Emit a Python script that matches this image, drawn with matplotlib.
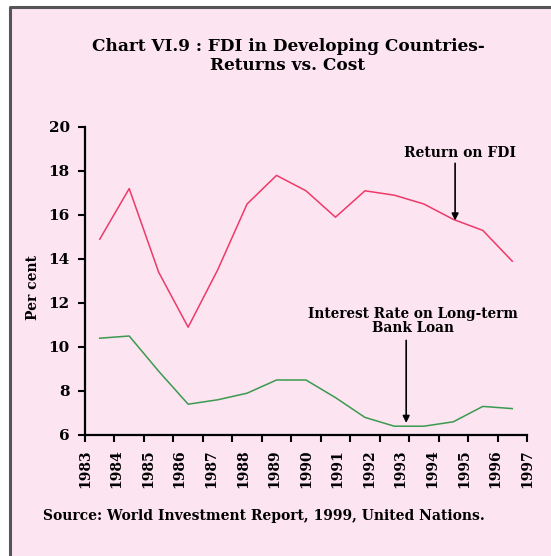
import numpy as np
import matplotlib
matplotlib.use('Agg')
import matplotlib.pyplot as plt
from matplotlib.patches import Rectangle
from matplotlib.lines import Line2D

# DATA ------------------------------------------------------------------------
years = ['1983', '1984', '1985', '1986', '1987', '1988', '1989', '1990',
         '1991', '1992', '1993', '1994', '1995', '1996', '1997']
return_fdi = [14.9, 17.2, 13.4, 10.9, 13.5, 16.5, 17.8, 17.1, 15.9, 17.1,
              16.9, 16.5, 15.8, 15.3, 13.9]
interest_rate = [10.4, 10.5, 8.9, 7.4, 7.6, 7.9, 8.5, 8.5, 7.7, 6.8,
                 6.4, 6.4, 6.6, 7.3, 7.2]
yticks = [6, 8, 10, 12, 14, 16, 18, 20]
# END DATA --------------------------------------------------------------------

W, H = 551, 556
bg = '#fce4f0'
red = '#ee3a6a'
green = '#3a9a50'
font = 'DejaVu Serif'

fig = plt.figure(figsize=(W / 100, H / 100), dpi=100, facecolor='white')
# pink panel, grey frame only on left/top
fig.patches.append(Rectangle((10 / W, 0), 1, 1 - 7 / H,
                             transform=fig.transFigure, facecolor=bg,
                             edgecolor='none', zorder=-5))
fig.lines.append(Line2D([10 / W, 10 / W, 1], [0, 1 - 7 / H, 1 - 7 / H],
                        transform=fig.transFigure, color='#555555', lw=2.2))

ax = fig.add_axes([85 / W, 1 - 435 / H, (527 - 85) / W, (435 - 127) / H])
ax.set_facecolor('none')
ax.set_zorder(2)

x = np.arange(len(years))
ax.plot(x, return_fdi, color=red, lw=1.1)
ax.plot(x, interest_rate, color=green, lw=1.1)

ax.set_xlim(-0.5, len(years) - 0.5)
ax.set_ylim(6, 20)

for s in ['top', 'right']:
    ax.spines[s].set_visible(False)
for s in ['left', 'bottom']:
    ax.spines[s].set_linewidth(1.6)

# ticks at category boundaries, labels spread over the whole axis
ax.xaxis.remove_overlapping_locs = False
ax.set_xticks(np.arange(len(years) + 1) - 0.5)
ax.set_xticklabels([])
lab_pos = np.linspace(-0.5, len(years) - 0.5, len(years))
ax.set_xticks(lab_pos, years, minor=True)
ax.tick_params(axis='x', which='major', length=5, width=1.5, direction='out')
ax.tick_params(axis='x', which='minor', length=0, pad=10)
for t in ax.get_xticklabels(minor=True):
    t.set_rotation(90)
    t.set_fontfamily(font)
    t.set_fontweight('bold')
    t.set_fontsize(10)

ax.set_yticks(yticks)
ax.set_yticklabels([str(v) for v in yticks], fontfamily=font,
                   fontweight='bold', fontsize=11)
ax.tick_params(axis='y', length=5, width=1.5, direction='out', pad=6)

fig.text(33 / W, 1 - 287 / H, 'Per cent', rotation=90, ha='center',
         va='center', fontfamily=font, fontweight='bold', fontsize=10)

# annotations
arrow = dict(arrowstyle='-|>', color='black', lw=1.2, mutation_scale=10,
             shrinkA=0, shrinkB=0)
ax.text(12.22, 18.8, 'Return on FDI', ha='center', va='center',
        fontfamily=font, fontweight='bold', fontsize=10)
ax.annotate('', xy=(12.06, return_fdi[12] - 0.05), xytext=(12.06, 18.35),
            arrowprops=arrow)
ax.text(10.63, 11.2, 'Interest Rate on Long-term\nBank Loan', ha='center',
        va='center', fontfamily=font, fontweight='bold', fontsize=9.8,
        linespacing=1.0)
ax.annotate('', xy=(10.4, interest_rate[10] + 0.15), xytext=(10.4, 10.3),
            arrowprops=arrow)

fig.text(288 / W, 1 - 56 / H,
         'Chart VI.9 : FDI in Developing Countries-\nReturns vs. Cost',
         ha='center', va='center', fontfamily=font, fontweight='bold',
         fontsize=12.2, linespacing=1.15)

fig.text(43 / W, 1 - 516 / H,
         'Source: World Investment Report, 1999, United Nations.',
         ha='left', va='center', fontfamily=font, fontweight='bold',
         fontsize=10)

fig.savefig('out.png', dpi=100, facecolor=fig.get_facecolor())
